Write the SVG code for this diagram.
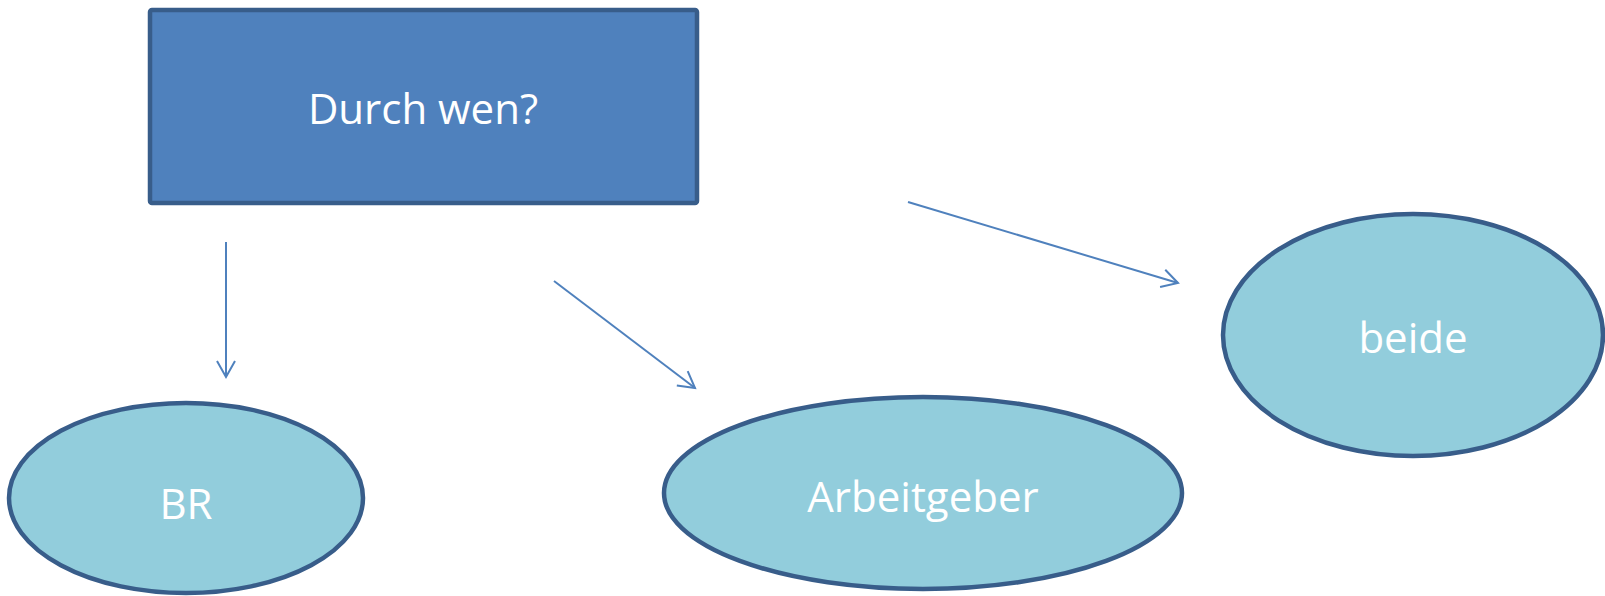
<svg xmlns="http://www.w3.org/2000/svg" width="1605" height="596" viewBox="0 0 1605 596">
<style>
.box{fill:#4F81BD;stroke:#385D8A;stroke-width:4.5}
.ell{fill:#92CDDC;stroke:#385D8A;stroke-width:4.5}
.lbl{font-family:"Open Sans","Noto Sans",sans-serif;font-size:42px;fill:#fff;text-anchor:middle}
.conn{stroke:#4F81BD;stroke-width:2;fill:none;marker-end:url(#arr)}
</style>
<defs>
<marker id="arr" markerUnits="userSpaceOnUse" markerWidth="30" markerHeight="30" viewBox="-20 -15 30 30" refX="0" refY="0" orient="auto">
<path d="M-16,-9 L0,0 L-16,9" fill="none" stroke="#4F81BD" stroke-width="2"/>
</marker>
</defs>
<g id="question">
<rect class="box" x="150" y="10" width="547" height="193" rx="2"/>
<text class="lbl" x="423" y="124">Durch wen?</text>
</g>
<g id="br">
<ellipse class="ell" cx="186" cy="498" rx="177" ry="95"/>
<text class="lbl" x="186" y="519">BR</text>
</g>
<g id="arbeitgeber">
<ellipse class="ell" cx="923" cy="493" rx="259" ry="96"/>
<text class="lbl" x="923" y="512">Arbeitgeber</text>
</g>
<g id="beide">
<ellipse class="ell" cx="1413" cy="335" rx="190" ry="121"/>
<text class="lbl" x="1413" y="353">beide</text>
</g>
<g id="connectors">
<line class="conn" x1="226" y1="242" x2="226" y2="377"/>
<line class="conn" x1="554" y1="281" x2="695" y2="388"/>
<line class="conn" x1="908" y1="202" x2="1178" y2="283"/>
</g>
</svg>
